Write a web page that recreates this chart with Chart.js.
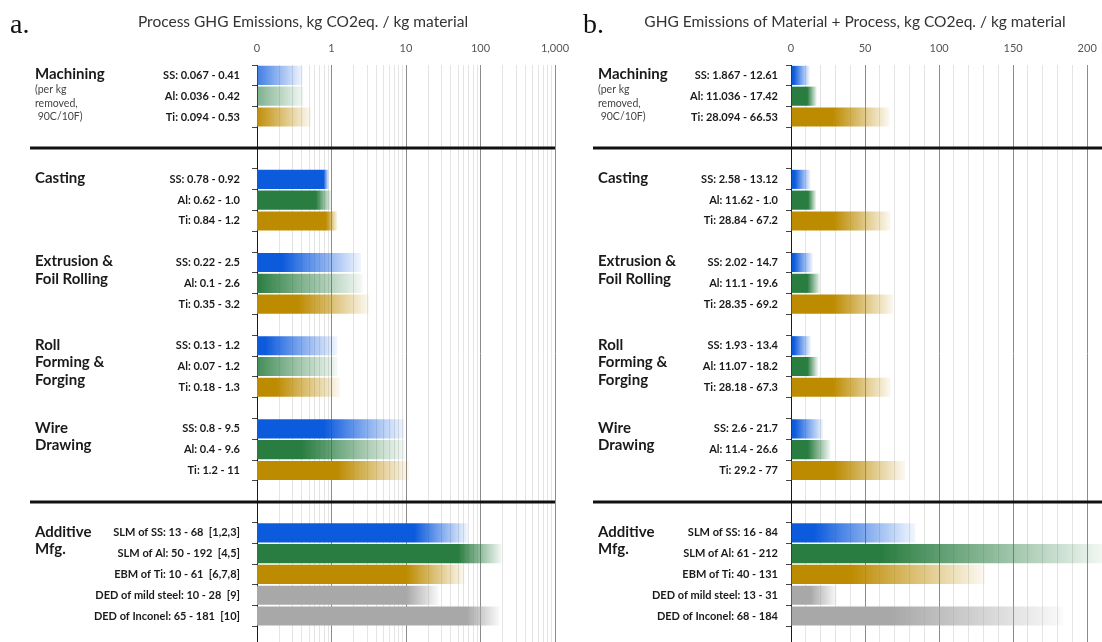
<!DOCTYPE html>
<html>
<head>
<meta charset="utf-8">
<script src="https://cdn.jsdelivr.net/npm/chart.js@4.4.1/dist/chart.umd.min.js"></script>
<style>
  html, body { margin: 0; padding: 0; background: #fff; }
  #wrap { position: relative; width: 1102px; height: 642px; overflow: hidden; }
  canvas { position: absolute; top: 0; }
  #chartA { left: 0; }
  #chartB { left: 580px; }
</style>
</head>
<body>
<div id="wrap">
  <canvas id="chartA" width="580" height="642"></canvas>
  <canvas id="chartB" width="522" height="642"></canvas>
</div>
<script>
// rows top to bottom, '' is an empty spacer row
const rowMaterials = ['SS', 'Al', 'Ti', '', '', 'SS', 'Al', 'Ti', '', 'SS', 'Al', 'Ti', '', 'SS', 'Al', 'Ti', '', 'SS', 'Al', 'Ti', '', '', 'SS', 'Al', 'Ti', 'Steel', 'Inconel'];

const groupNames = ['Machining', 'Casting', 'Extrusion &\nFoil Rolling', 'Roll\nForming &\nForging', 'Wire\nDrawing', 'Additive\nMfg.'];
const groupRows = [0, 5, 9, 13, 17, 22];
const machiningNote = ['(per kg', 'removed,', ' 90C/10F)'];
const separatorRows = [3.5, 20.5];

// panel a: process only (log axis)
const labelsA = ['SS: 0.067 - 0.41', 'Al: 0.036 - 0.42', 'Ti: 0.094 - 0.53', '', '',
  'SS: 0.78 - 0.92', 'Al: 0.62 - 1.0', 'Ti: 0.84 - 1.2', '',
  'SS: 0.22 - 2.5', 'Al: 0.1 - 2.6', 'Ti: 0.35 - 3.2', '',
  'SS: 0.13 - 1.2', 'Al: 0.07 - 1.2', 'Ti: 0.18 - 1.3', '',
  'SS: 0.8 - 9.5', 'Al: 0.4 - 9.6', 'Ti: 1.2 - 11', '', '',
  'SLM of SS: 13 - 68  [1,2,3]', 'SLM of Al: 50 - 192  [4,5]', 'EBM of Ti: 10 - 61  [6,7,8]',
  'DED of mild steel: 10 - 28  [9]', 'DED of Inconel: 65 - 181  [10]'];
const lowA = [0.067, 0.036, 0.094, null, null, 0.78, 0.62, 0.84, null, 0.22, 0.1, 0.35, null,
  0.13, 0.07, 0.18, null, 0.8, 0.4, 1.2, null, null, 13, 50, 10, 10, 65];
const highA = [0.41, 0.42, 0.53, null, null, 0.92, 1.0, 1.2, null, 2.5, 2.6, 3.2, null,
  1.2, 1.2, 1.3, null, 9.5, 9.6, 11, null, null, 68, 192, 61, 28, 181];
const decadesA = [0.1, 1, 10, 100, 1000];
const decadeLabelsA = ['0', '1', '10', '100', '1,000'];

// panel b: material + process (linear axis)
const labelsB = ['SS: 1.867 - 12.61', 'Al: 11.036 - 17.42', 'Ti: 28.094 - 66.53', '', '',
  'SS: 2.58 - 13.12', 'Al: 11.62 - 1.0', 'Ti: 28.84 - 67.2', '',
  'SS: 2.02 - 14.7', 'Al: 11.1 - 19.6', 'Ti: 28.35 - 69.2', '',
  'SS: 1.93 - 13.4', 'Al: 11.07 - 18.2', 'Ti: 28.18 - 67.3', '',
  'SS: 2.6 - 21.7', 'Al: 11.4 - 26.6', 'Ti: 29.2 - 77', '', '',
  'SLM of SS: 16 - 84', 'SLM of Al: 61 - 212', 'EBM of Ti: 40 - 131',
  'DED of mild steel: 13 - 31', 'DED of Inconel: 68 - 184'];
const lowB = [1.867, 11.036, 28.094, null, null, 2.58, 11.62, 28.84, null, 2.02, 11.1, 28.35, null,
  1.93, 11.07, 28.18, null, 2.6, 11.4, 29.2, null, null, 16, 61, 40, 13, 68];
const highB = [12.61, 17.42, 66.53, null, null, 13.12, 17.0, 67.2, null, 14.7, 19.6, 69.2, null,
  13.4, 18.2, 67.3, null, 21.7, 26.6, 77, null, null, 84, 212, 131, 31, 184];
const majorTicksB = [0, 50, 100, 150, 200];

const materialColors = {
  SS: '13,91,221',
  Al: '42,125,65',
  Ti: '189,139,0',
  Steel: '168,168,168',
  Inconel: '168,168,168'
};

const FONT = 'Lato, "Noto Sans", sans-serif';

// solid up to the low value, fading out toward the high value
function barFill(low) {
  return function(c) {
    if (!c.raw) return 'transparent';
    const rgb = materialColors[rowMaterials[c.raw.y]];
    const chart = c.chart;
    if (!chart.chartArea) return 'rgb(' + rgb + ')';
    const xs = chart.scales.x;
    const p0 = xs.getPixelForValue(low[c.raw.y]);
    const p1 = xs.getPixelForValue(c.raw.x);
    const g = chart.ctx.createLinearGradient(p0, 0, Math.max(p1, p0 + 1), 0);
    g.addColorStop(0, 'rgba(' + rgb + ',1)');
    g.addColorStop(1, 'rgba(' + rgb + ',0.05)');
    return g;
  };
}

function tickMarkColor(c) {
  const i = c.index === undefined ? rowMaterials.length : c.index;
  const filled = r => r >= 0 && r < rowMaterials.length && rowMaterials[r] !== '';
  return filled(i - 1) || filled(i) ? '#444' : 'rgba(0,0,0,0)';
}

const panelText = {
  id: 'panelText',
  afterDraw(chart, args, o) {
    const { ctx, chartArea } = chart;
    const y = chart.scales.y;
    ctx.save();
    ctx.fillStyle = '#111';
    ctx.textAlign = 'left';
    ctx.textBaseline = 'alphabetic';
    ctx.font = '28px "Liberation Serif", serif';
    ctx.fillText(o.letter, o.letterX, 33);

    ctx.font = '15.5px ' + FONT;
    ctx.fillStyle = '#333';
    ctx.textAlign = 'center';
    ctx.fillText(o.title, o.titleX, 27);

    ctx.strokeStyle = '#111';
    ctx.lineWidth = 3;
    separatorRows.forEach(r => {
      const py = Math.round(y.getPixelForValue(r));
      ctx.beginPath();
      ctx.moveTo(o.sepX, py);
      ctx.lineTo(chartArea.right, py);
      ctx.stroke();
    });

    ctx.textAlign = 'left';
    ctx.textBaseline = 'middle';
    ctx.fillStyle = '#1a1a1a';
    ctx.font = 'bold 15px ' + FONT;
    groupNames.forEach((name, k) => {
      const py = y.getPixelForValue(groupRows[k]) - 1;
      name.split('\n').forEach((line, j) => ctx.fillText(line, o.groupX, py + j * 17.5));
    });

    ctx.font = '10.5px ' + FONT;
    ctx.fillStyle = '#444';
    const ny = y.getPixelForValue(groupRows[0]);
    machiningNote.forEach((line, j) => ctx.fillText(line, o.groupX, ny + 14.5 + j * 13.5));
    ctx.restore();
  }
};

function makePanel(id, opts) {
  const data = opts.high
    .map((v, i) => (v == null ? null : { x: v, y: i }))
    .filter(Boolean);

  return new Chart(document.getElementById(id), {
    type: 'bar',
    data: {
      datasets: [{
        data: data,
        backgroundColor: barFill(opts.low),
        borderWidth: 0,
        barPercentage: 0.92,
        categoryPercentage: 1
      }]
    },
    options: {
      responsive: false,
      animation: false,
      indexAxis: 'y',
      layout: { autoPadding: false, padding: { left: 0, right: opts.padRight, top: 0, bottom: 0 } },
      plugins: {
        legend: { display: false },
        tooltip: { enabled: false },
        panelText: opts.text
      },
      scales: {
        x: Object.assign({
          position: 'top',
          afterFit: s => { s.height = 65; s.paddingLeft = 0; s.paddingRight = 0; },
          border: { display: false },
          grid: {
            drawTicks: false,
            color: c => (c.tick && opts.isMajor(c.tick.value) ? '#8c8c8c' : '#e4e4e4')
          },
          ticks: {
            autoSkip: false,
            maxRotation: 0,
            stepSize: opts.stepSize,
            padding: 10,
            color: '#555',
            font: { family: FONT, size: 11 },
            callback: opts.tickLabel
          }
        }, opts.xScale),
        y: {
          type: 'linear',
          reverse: true,
          bounds: 'data',
          offset: false,
          min: -0.5,
          max: 27.25,
          afterBuildTicks: s => { s.ticks = opts.labels.map((_, i) => ({ value: i })); },
          afterFit: s => { s.width = opts.yWidth; s.paddingTop = 0; s.paddingBottom = 0; },
          border: { display: true, color: '#1a1a1a', width: 1 },
          grid: {
            offset: true,
            drawOnChartArea: false,
            drawTicks: true,
            tickLength: 5,
            color: tickMarkColor
          },
          ticks: {
            autoSkip: false,
            padding: opts.labelPad,
            color: '#1a1a1a',
            font: { family: FONT, size: 11, weight: 'bold' },
            callback: v => opts.labels[v] || ''
          }
        }
      }
    },
    plugins: [panelText]
  });
}

const logTicksA = decadesA.slice(0, -1)
  .flatMap(d => [1, 2, 3, 4, 5, 6, 7, 8, 9].map(k => +(d * k).toPrecision(3)))
  .concat(decadesA[decadesA.length - 1]);

makePanel('chartA', {
  low: lowA,
  high: highA,
  labels: labelsA,
  yWidth: 257,
  labelPad: 12,
  padRight: 25,
  isMajor: v => decadesA.some(d => Math.abs(d - v) < 1e-9),
  tickLabel: v => {
    const k = decadesA.findIndex(d => Math.abs(d - v) < 1e-9);
    return k >= 0 ? decadeLabelsA[k] : '';
  },
  xScale: {
    type: 'logarithmic',
    min: 0.1,
    max: 1000,
    afterBuildTicks: s => { s.ticks = logTicksA.map(v => ({ value: v })); }
  },
  text: {
    letter: 'a.', letterX: 10,
    title: 'Process GHG Emissions, kg CO2eq. / kg material', titleX: 303,
    sepX: 30, groupX: 35
  }
});

makePanel('chartB', {
  low: lowB,
  high: highB,
  labels: labelsB,
  yWidth: 211,
  labelPad: 8,
  padRight: 0,
  stepSize: 10,
  isMajor: v => majorTicksB.includes(v),
  tickLabel: v => (majorTicksB.includes(v) ? String(v) : ''),
  xScale: {
    type: 'linear',
    min: 0,
    max: 210
  },
  text: {
    letter: 'b.', letterX: 3,
    title: 'GHG Emissions of Material + Process, kg CO2eq. / kg material', titleX: 275,
    sepX: 13, groupX: 18
  }
});
</script>
</body>
</html>
